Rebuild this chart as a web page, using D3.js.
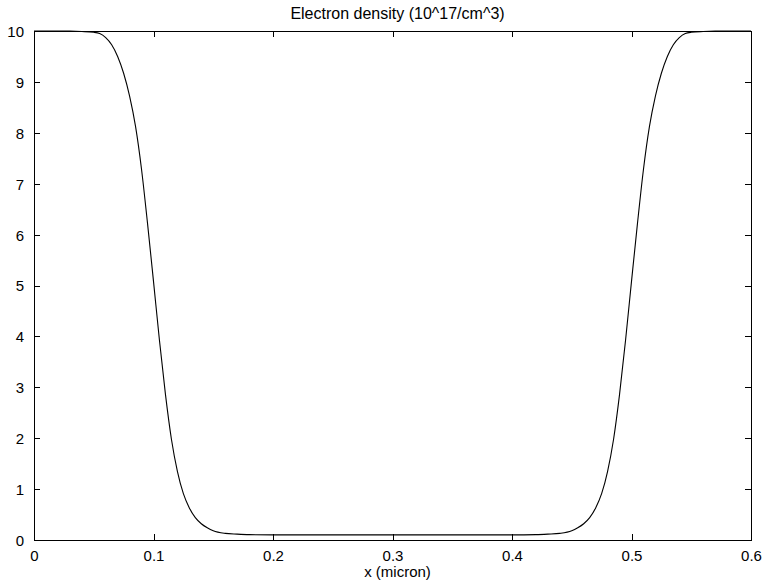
<!DOCTYPE html>
<html>
<head>
<meta charset="utf-8">
<script src="https://cdn.jsdelivr.net/npm/d3@7"></script>
<style>
  html, body { margin: 0; padding: 0; background: #fff; }
  svg { display: block; }
  text { font-family: "Liberation Sans", Arial, Helvetica, sans-serif; fill: #000; }
</style>
</head>
<body>
<svg id="chart" width="764" height="585"></svg>
<script>
// ---- Data ----
const title = "Electron density (10^17/cm^3)";
const xLabel = "x (micron)";
const xTicks = [0, 0.1, 0.2, 0.3, 0.4, 0.5, 0.6];
const yTicks = [0, 1, 2, 3, 4, 5, 6, 7, 8, 9, 10];

const positions = [
  0, 0.02, 0.03, 0.04, 0.05, 0.055, 0.06, 0.065, 0.07, 0.075, 0.08, 0.085,
  0.09, 0.095, 0.1, 0.105, 0.11, 0.115, 0.12, 0.125, 0.13, 0.135, 0.14, 0.145,
  0.15, 0.16, 0.17, 0.18, 0.2, 0.25, 0.3, 0.35, 0.4, 0.42, 0.43, 0.44, 0.45,
  0.455, 0.46, 0.465, 0.47, 0.475, 0.48, 0.485, 0.49, 0.495, 0.5, 0.505, 0.51,
  0.515, 0.52, 0.525, 0.53, 0.535, 0.54, 0.545, 0.55, 0.56, 0.57, 0.58, 0.6
];
const density = [
  10, 10, 9.998, 9.99, 9.975, 9.95, 9.87, 9.73, 9.5, 9.17, 8.72, 8.12,
  7.28, 6.22, 5.08, 3.92, 2.86, 1.98, 1.35, 0.91, 0.63, 0.44, 0.32, 0.24,
  0.18, 0.13, 0.115, 0.105, 0.1, 0.1, 0.1, 0.1, 0.1, 0.105, 0.115, 0.13, 0.18,
  0.24, 0.32, 0.44, 0.63, 0.91, 1.35, 1.98, 2.86, 3.92, 5.08, 6.22, 7.28,
  8.12, 8.72, 9.17, 9.5, 9.73, 9.87, 9.95, 9.975, 9.99, 9.998, 10, 10
];

// ---- Layout ----
const svg = d3.select("#chart");
const mLeft = 34, mRight = 751, mTop = 31, mBottom = 540;
const fontSize = 15;
const tickLen = 6;

const x = d3.scaleLinear().domain([0, 0.6]).range([mLeft, mRight]);
const y = d3.scaleLinear().domain([0, 10]).range([mBottom, mTop]);

// Frame
svg.append("rect")
  .attr("x", mLeft).attr("y", mTop)
  .attr("width", mRight - mLeft).attr("height", mBottom - mTop)
  .attr("fill", "none").attr("stroke", "#000").attr("stroke-width", 1)
  .attr("shape-rendering", "crispEdges");

// Axes via d3 axis generators (inward ticks)
const fmtX = d3.format(".1f");
const xAxisB = d3.axisBottom(x).tickValues(xTicks).tickSizeInner(-tickLen).tickSizeOuter(0)
  .tickPadding(10).tickFormat(d => d === 0 ? "0" : fmtX(d));
const xAxisT = d3.axisTop(x).tickValues(xTicks).tickSizeInner(-tickLen).tickSizeOuter(0).tickFormat("");
const yAxisL = d3.axisLeft(y).tickValues(yTicks).tickSizeInner(-tickLen).tickSizeOuter(0)
  .tickPadding(10).tickFormat(d3.format("d"));
const yAxisR = d3.axisRight(y).tickValues(yTicks).tickSizeInner(-tickLen).tickSizeOuter(0).tickFormat("");

function styleAxis(g) {
  g.select(".domain").remove();
  g.selectAll("line").attr("stroke", "#000").attr("shape-rendering", "crispEdges");
  g.selectAll("text").attr("font-size", fontSize)
    .attr("font-family", "'Liberation Sans', Arial, Helvetica, sans-serif").attr("fill", "#000");
}

svg.append("g").attr("transform", `translate(0,${mBottom})`).call(xAxisB).call(styleAxis)
  .selectAll("text").attr("dy", "0.71em");
svg.append("g").attr("transform", `translate(0,${mTop})`).call(xAxisT).call(styleAxis);
svg.append("g").attr("transform", `translate(${mLeft},0)`).call(yAxisL).call(styleAxis)
  .selectAll("text").attr("dy", "0.36em");
svg.append("g").attr("transform", `translate(${mRight},0)`).call(yAxisR).call(styleAxis);

// Curve
const pts = positions.map((p, i) => [p, density[i]]);
const line = d3.line().x(d => x(d[0])).y(d => y(d[1])).curve(d3.curveMonotoneX);
svg.append("path").datum(pts)
  .attr("d", line)
  .attr("fill", "none").attr("stroke", "#000").attr("stroke-width", 1.1);

// Title and x label
svg.append("text").attr("x", 397.5).attr("y", 19)
  .attr("text-anchor", "middle").attr("font-size", 16).text(title);
svg.append("text").attr("x", 397.5).attr("y", 577)
  .attr("text-anchor", "middle").attr("font-size", fontSize).text(xLabel);
</script>
</body>
</html>
